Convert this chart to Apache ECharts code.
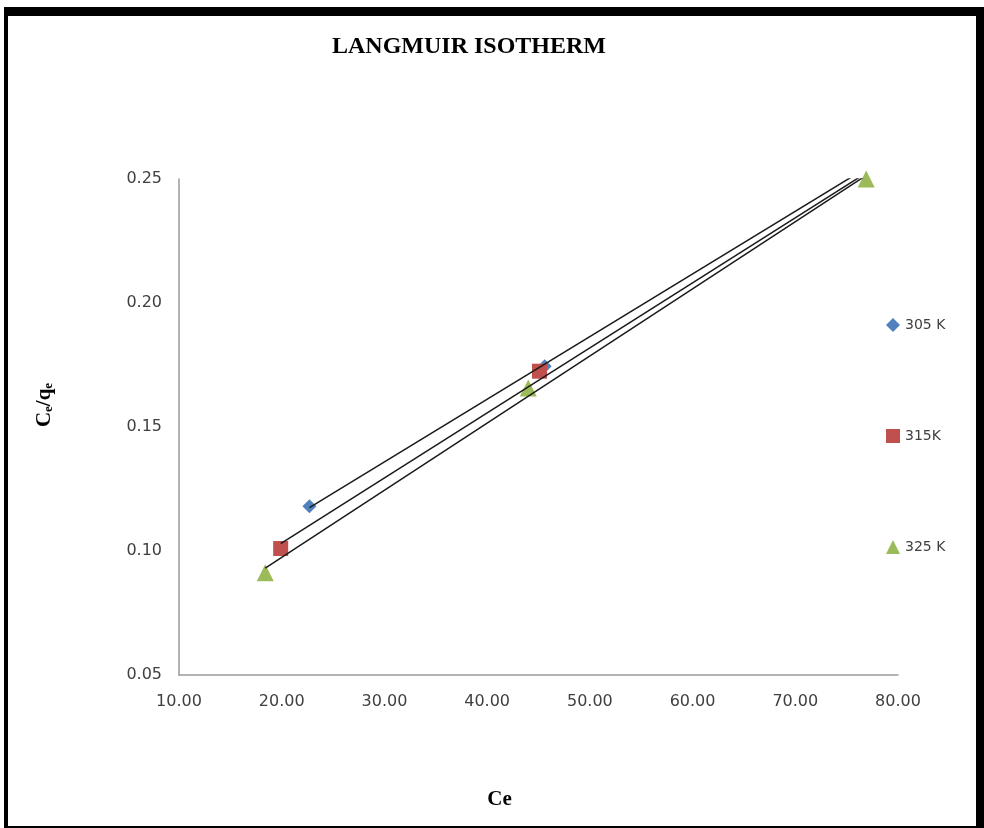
<!DOCTYPE html>
<html>
<head>
<meta charset="utf-8">
<script src="https://cdn.jsdelivr.net/npm/echarts@6/dist/echarts.min.js"></script>
<style>
html,body{margin:0;padding:0;background:#fff;}
#chart{position:absolute;left:0;top:0;width:984px;height:828px;}
#frame{position:absolute;left:4px;top:7px;width:980px;height:821px;box-sizing:border-box;border-top:9px solid #000;border-left:4px solid #000;border-right:8px solid #000;border-bottom:2px solid #000;pointer-events:none;}
</style>
</head>
<body>
<div id="chart"></div>
<div id="frame"></div>
<script>
const seriesNames = ['305 K', '315K', '325 K'];
const ce305 = [22.7, 45.6, 76.0];
const q305  = [0.1180, 0.1745, 0.2525];
const ce315 = [19.9, 45.1, 77.5];
const q315  = [0.1010, 0.1725, 0.2525];
const ce325 = [18.4, 44.0, 76.9];
const q325  = [0.0912, 0.1657, 0.2500];
const xTicks = [10, 20, 30, 40, 50, 60, 70, 80];
const yTicks = [0.05, 0.10, 0.15, 0.20, 0.25];

const colors = ['#4F81BD', '#C0504D', '#9BBB59'];
const symbols = ['diamond', 'rect', 'triangle'];
const sizes = [14, 15, 17];

function pairs(xs, ys){ return xs.map((x,i)=>[x, ys[i]]); }
function fit(xs, ys){
  const n = xs.length;
  const mx = xs.reduce((a,b)=>a+b,0)/n, my = ys.reduce((a,b)=>a+b,0)/n;
  let sxy=0, sxx=0;
  for(let i=0;i<n;i++){ sxy += (xs[i]-mx)*(ys[i]-my); sxx += (xs[i]-mx)*(xs[i]-mx); }
  const b = sxy/sxx, a = my - b*mx;
  const x0 = Math.min(...xs), x1 = Math.max(...xs);
  return [[x0, a+b*x0],[x1, a+b*x1]];
}
const allX = [ce305, ce315, ce325];
const allY = [q305, q315, q325];

const series = [];
for(let i=0;i<3;i++){
  series.push({
    name: seriesNames[i], type:'scatter', symbol: symbols[i], symbolSize: sizes[i],
    itemStyle:{color: colors[i], opacity: 1}, data: pairs(allX[i], allY[i]), z: 2, clip: true
  });
}
for(let i=0;i<3;i++){
  series.push({
    name: 'trend'+i, type:'line', data: fit(allX[i], allY[i]), symbol:'none',
    lineStyle:{color:'#1a1a1a', width:1.5}, z: 3, clip: true, silent: true
  });
}

const chart = echarts.init(document.getElementById('chart'), null, {renderer:'canvas'});
chart.setOption({
  animation: false,
  backgroundColor: '#fff',
  title: {
    text: 'LANGMUIR ISOTHERM', left: 464, top: 30, textAlign: 'center',
    textStyle: {fontFamily: 'Liberation Serif', fontWeight: 'bold', fontSize: 24, color: '#000'}
  },
  legend: {
    orient: 'vertical', left: 886, top: 318, padding: 0, itemGap: 97, itemWidth: 14, itemHeight: 14,
    data: seriesNames.map((n,i)=>({name:n, icon: symbols[i], itemStyle:{opacity:1}})),
    textStyle: {fontFamily: 'DejaVu Sans', fontSize: 14, color: '#404040'},
    itemStyle: {opacity: 1}
  },
  grid: {left: 179, right: 86, top: 179, bottom: 153, containLabel: false},
  xAxis: {
    type: 'value', min: 10, max: 80, interval: 10,
    name: 'Ce', nameLocation: 'middle', nameGap: 114,
    nameTextStyle: {fontFamily: 'Liberation Serif', fontWeight: 'bold', fontSize: 21, color: '#000', padding: [0, 78, 0, 0]},
    axisLine: {show: true, lineStyle: {color: '#9a9a9a', width: 1.5}},
    axisTick: {show: false},
    splitLine: {show: false},
    axisLabel: {margin: 19, fontFamily: 'DejaVu Sans', fontSize: 16, color: '#404040',
      formatter: v => xTicks.includes(v) ? v.toFixed(2) : ''}
  },
  yAxis: {
    type: 'value', min: 0.05, max: 0.25, interval: 0.05,
    name: '{c|C}{s|e}{c|/}{q|q}{s|e}', nameLocation: 'middle', nameGap: 124, nameRotate: 90,
    nameTextStyle: {
      padding: [0, 0, 0, 44],
      rich: {
        c: {fontFamily: 'Liberation Serif', fontWeight: 'bold', fontSize: 21, color: '#000'},
        q: {fontFamily: 'Liberation Serif', fontWeight: 'bold', fontSize: 21, color: '#000'},
        s: {fontFamily: 'Liberation Serif', fontWeight: 'bold', fontSize: 13, color: '#000', verticalAlign: 'bottom', padding: [8,0,0,0]}
      }
    },
    axisLine: {show: true, lineStyle: {color: '#9a9a9a', width: 1.5}},
    axisTick: {show: false},
    splitLine: {show: false},
    axisLabel: {margin: 17, fontFamily: 'DejaVu Sans', fontSize: 16, color: '#404040',
      formatter: v => yTicks.some(t => Math.abs(t-v) < 1e-9) ? v.toFixed(2) : ''}
  },
  series: series
});
</script>
</body>
</html>
